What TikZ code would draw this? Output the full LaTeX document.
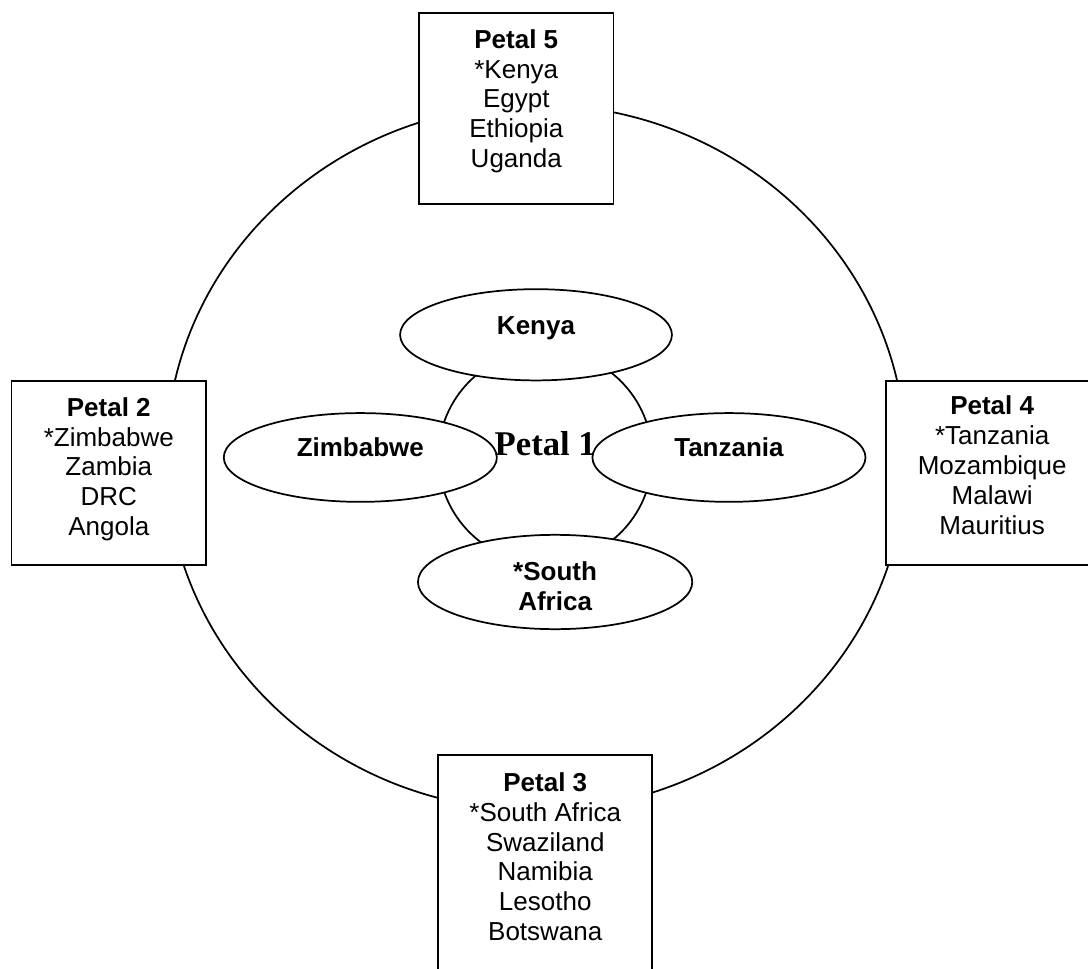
\documentclass[tikz,border=0pt]{standalone}
\usepackage{fontspec}
\setmainfont{Liberation Sans}
\newfontfamily\hubfont{Liberation Serif}
\usepackage{tikz}
\usetikzlibrary{shapes.geometric}
\pgfdeclarelayer{edgelayer}
\pgfdeclarelayer{nodelayer}
\pgfsetlayers{edgelayer,nodelayer,main}
\newcommand{\petalsize}{\fontsize{12}{13.8}\selectfont}
\tikzstyle{none} = []
\tikzstyle{Ring}=[draw=black, thick, shape=ellipse, inner sep=0pt, minimum width=12cm, minimum height=11.45cm]
\tikzstyle{Hub}=[draw=black, thick, shape=circle, inner sep=0pt, minimum size=3.47cm]
\tikzstyle{Petal Box}=[draw=black, thick, fill=white, shape=rectangle, inner sep=0pt]
\tikzstyle{Country Oval}=[draw=black, thick, fill=white, shape=ellipse, inner sep=0pt]
\tikzstyle{Box Text}=[align=center, anchor=base, inner sep=0pt, font=\petalsize]
\tikzstyle{Oval Text}=[align=center, anchor=base, inner sep=0pt, font=\petalsize\bfseries]
\tikzstyle{Hub Text}=[anchor=base, inner sep=0pt, font=\hubfont\bfseries\fontsize{16}{18}\selectfont]

\begin{document}
\begin{tikzpicture}[thick]
	\useasboundingbox (-8.695, -8.297) rectangle (8.954, 7.421);
	\begin{pgfonlayer}{edgelayer}
		\node [style=Ring] (0) at (0, 0) {};
		\node [style=Hub] (1) at (0.15, 0.01) {};
	\end{pgfonlayer}
	\begin{pgfonlayer}{nodelayer}
		\node [style=Petal Box, minimum width=3.15cm, minimum height=3.10cm] (2) at (-0.32, 5.66) {};
		\node [style=Petal Box, minimum width=3.16cm, minimum height=2.99cm] (3) at (-6.93, -0.25) {};
		\node [style=Petal Box, minimum width=3.44cm, minimum height=2.99cm] (4) at (7.40, -0.25) {};
		\node [style=Petal Box, minimum width=3.47cm, minimum height=3.97cm] (5) at (0.15, -6.81) {};
		\node [style=Country Oval, minimum width=4.41cm, minimum height=1.48cm] (6) at (0, 1.99) {};
		\node [style=Country Oval, minimum width=4.43cm, minimum height=1.44cm] (7) at (-2.85, 0) {};
		\node [style=Country Oval, minimum width=4.43cm, minimum height=1.44cm] (8) at (3.13, 0) {};
		\node [style=Country Oval, minimum width=4.45cm, minimum height=1.53cm] (9) at (0.31, -2.02) {};
		\node [style=Box Text] (10) at (-0.32, 4.70) {\textbf{Petal 5}\\*Kenya\\Egypt\\Ethiopia\\Uganda};
		\node [style=Box Text] (11) at (-6.93, -1.27) {\textbf{Petal 2}\\*Zimbabwe\\Zambia\\DRC\\Angola};
		\node [style=Box Text] (12) at (7.40, -1.25) {\textbf{Petal 4}\\*Tanzania\\Mozambique\\Malawi\\Mauritius};
		\node [style=Box Text] (13) at (0.15, -7.84) {\textbf{Petal 3}\\*South Africa\\Swaziland\\Namibia\\Lesotho\\Botswana};
		\node [style=Oval Text] (14) at (0, 2.00) {Kenya};
		\node [style=Oval Text] (15) at (-2.85, 0.02) {Zimbabwe};
		\node [style=Oval Text] (16) at (3.13, 0.02) {Tanzania};
		\node [style=Oval Text] (17) at (0.31, -2.48) {*South\\Africa};
		\node [style=Hub Text] (18) at (0.15, 0.03) {Petal 1};
	\end{pgfonlayer}
\end{tikzpicture}
\end{document}
